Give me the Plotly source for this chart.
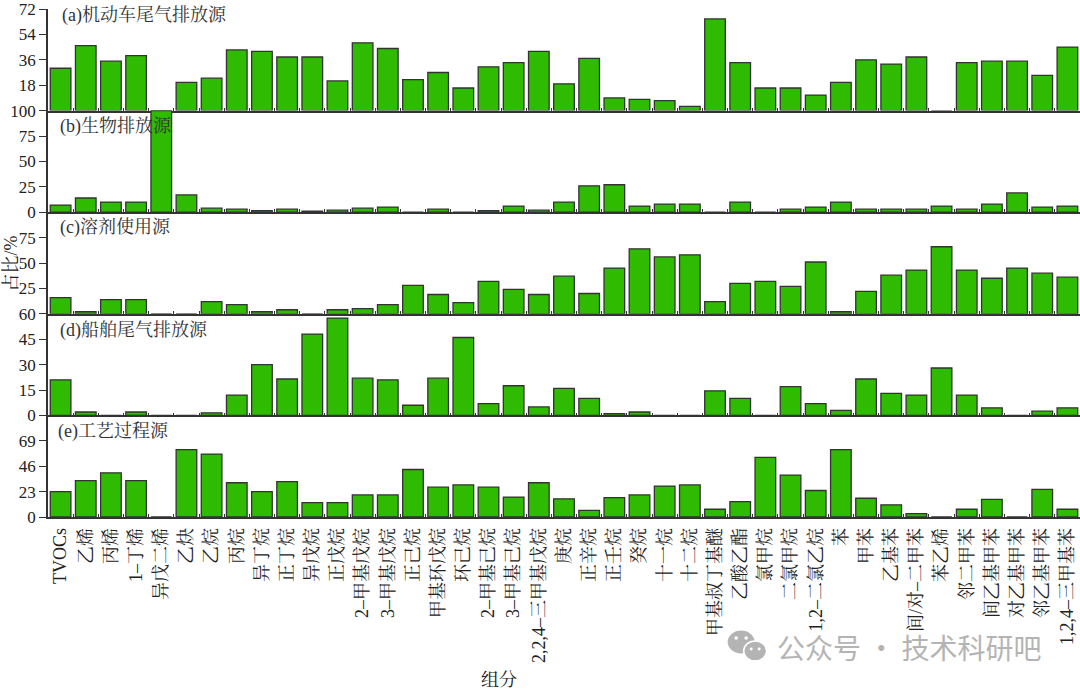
import plotly.graph_objects as go
from plotly.subplots import make_subplots

categories = ["TVOCs","乙烯","丙烯","1–丁烯","异戊二烯","乙炔","乙烷","丙烷","异丁烷","正丁烷","异戊烷","正戊烷",
              "2–甲基戊烷","3–甲基戊烷","正己烷","甲基环戊烷","环己烷","2–甲基己烷","3–甲基己烷","2,2,4–三甲基戊烷",
              "庚烷","正辛烷","正壬烷","癸烷","十一烷","十二烷","甲基叔丁基醚","乙酸乙酯","氯甲烷","二氯甲烷",
              "1,2–二氯乙烷","苯","甲苯","乙基苯","间/对–二甲苯","苯乙烯","邻二甲苯","间乙基甲苯","对乙基甲苯","邻乙基甲苯","1,2,4–三甲基苯"]

vehicle = [30,46,35,39,0,20,23,43,42,38,38,21,48,44,22,27,16,31,34,42,19,37,9,8,7,3,65,34,16,16,11,20,36,33,38,0,34,35,35,25,45]
biogenic = [7,14,10,10,100,17,4,3,1.5,3,1,2,4,5,0,3,0,1.5,6,2,10,26,27,6,8,8,0,10,0,3,5,10,3,3,3,6,3,8,19,5,6]
solvent = [16,2,14,14,0,0,12,9,2,4,0,4,5,9,28,19,11,32,24,19,37,20,45,64,56,58,12,30,32,27,51,2,22,38,43,66,43,35,45,40,36]
ship = [21,2,0,2,0,0,1.5,12,30,21.5,48,57.5,22,21,6,22,46,7,17.5,5,16,10,1,2,0,0,14.5,10,0,17,7,3,21.5,13,12,28,12,4.5,0,2.5,4.5]
process = [23,33,40,33,0,61,57,31,23,32,13,13,20,20,43,27,29,27,18,31,16.5,6,17.5,20,28,29,7,14,54,38,24,61,17,11,3,0,7,16,0,25,7]

panels = [vehicle, biogenic, solvent, ship, process]
titles = ["(a)机动车尾气排放源","(b)生物排放源","(c)溶剂使用源","(d)船舶尾气排放源","(e)工艺过程源"]
tops = [72,100,100,60,92]
tickvals = [[18,36,54,72],[0,25,50,75,100],[25,50,75],[0,15,30,45,60],[0,23,46,69]]

FONT = "Liberation Serif, Noto Serif CJK SC, Noto Sans CJK SC, serif"
INK = "#333333"
W, H = 1080, 691
L, R, T, B = 47.5, 0, 5, 174

fig = make_subplots(rows=5, cols=1, shared_xaxes=True, vertical_spacing=0)
for i, vals in enumerate(panels):
    fig.add_trace(go.Bar(x=categories, y=vals, width=0.82,
                         marker=dict(color="#2EBB00", line=dict(color=INK, width=1.3))), row=i+1, col=1)
    fig.update_yaxes(range=[0, tops[i]], tickmode="array", tickvals=tickvals[i], row=i+1, col=1,
                     ticks="outside", ticklen=7, tickwidth=1.2, tickcolor=INK, showgrid=False, zeroline=False,
                     ticklabeloverflow="allow",
                     showline=True, linecolor=INK, linewidth=1.5, tickfont=dict(family=FONT, size=17, color="#222222"))
    fig.update_xaxes(row=i+1, col=1, showgrid=False, zeroline=False, showline=True, linecolor=INK, linewidth=1.5,
                     ticks="inside", ticklen=3, tickwidth=1, tickcolor=INK, tickson="boundaries",
                     range=[-0.5, 40.5], type="category", categoryorder="array", categoryarray=categories,
                     showticklabels=(i == 4), tickangle=-90, ticklabelstandoff=2,
                     tickfont=dict(family=FONT, size=18, color="#222222"))

def px(x): return (x - L) / (W - L - R)
def py(y): return (H - B - y) / (H - T - B)

title_pos = [(60,12),(58,123),(58,225),(58,329),(56,431)]
for t, (x, y) in zip(titles, title_pos):
    fig.add_annotation(text=t, x=px(x), y=py(y), xref="paper", yref="paper", xanchor="left", yanchor="middle",
                       showarrow=False, font=dict(family=FONT, size=18, color="#333333"))
fig.add_annotation(text="占比/%", x=px(10), y=py(262), xref="paper", yref="paper", xanchor="center", yanchor="middle",
                   textangle=-90, showarrow=False, font=dict(family=FONT, size=18, color="#222222"))
fig.add_annotation(text="组分", x=px(499), y=py(681), xref="paper", yref="paper", xanchor="center", yanchor="middle",
                   showarrow=False, font=dict(family=FONT, size=18, color="#222222"))
fig.add_annotation(text="公众号 · 技术科研吧", x=px(775), y=py(648), xref="paper", yref="paper", xanchor="left",
                   yanchor="middle", showarrow=False, font=dict(family="Noto Sans CJK SC", size=28, color="#b4b4b4"))

def ell(cx, cy, rx, ry, color, line=None):
    fig.add_shape(type="circle", xref="paper", yref="paper", x0=px(cx-rx), x1=px(cx+rx), y0=py(cy+ry), y1=py(cy-ry),
                  fillcolor=color, line=dict(color=line or color, width=1.5 if line else 0), layer="above")
ell(741, 643, 13.5, 11.5, "#b4b4b4")
ell(755, 652, 11.5, 10, "#b4b4b4", "white")
for cx, cy, r in [(736,639,1.8),(746,639,1.8),(751,650,1.5),(759,650,1.5)]:
    ell(cx, cy, r, r, "white")

fig.update_layout(width=W, height=H, margin=dict(l=L, r=R, t=T, b=B, pad=0), showlegend=False,
                  paper_bgcolor="white", plot_bgcolor="white", bargap=0.17, font=dict(family=FONT))
fig.write_html("out.html", post_script="document.body.style.margin='0';", config={"displayModeBar": False})
